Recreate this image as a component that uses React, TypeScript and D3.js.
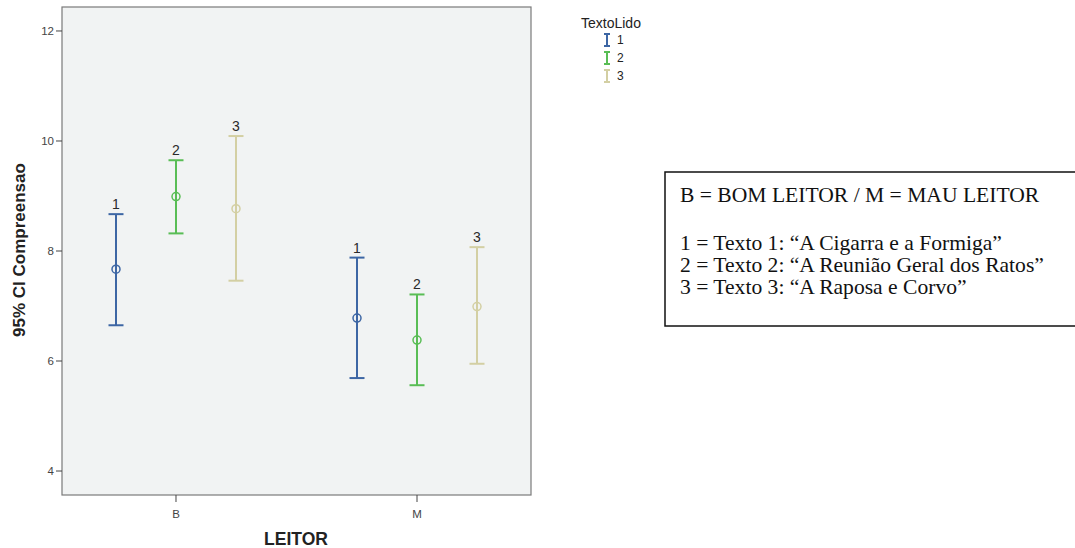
import * as d3 from 'd3'

const GROUPS = ['B', 'M']
const SERIES = ['1', '2', '3']
const COLORS = ['#3d66a4', '#59bd55', '#d3cfa3']

// mean, lower and upper 95% CI per series, indexed by group
const MEANS = [
  [7.67, 6.78],
  [8.99, 6.38],
  [8.77, 6.99],
]
const LOWER = [
  [6.65, 5.69],
  [8.32, 5.56],
  [7.46, 5.95],
]
const UPPER = [
  [8.67, 7.88],
  [9.65, 7.21],
  [10.09, 8.07],
]
const Y_TICKS = [4, 6, 8, 10, 12]

const NOTE_LINES = [
  'B = BOM LEITOR / M = MAU LEITOR',
  '',
  '1 = Texto 1: \u201cA Cigarra e a Formiga\u201d',
  '2 = Texto 2: \u201cA Reuni\u00e3o Geral dos Ratos\u201d',
  '3 = Texto 3: \u201cA Raposa e Corvo\u201d',
]

const W = 1075
const H = 548
const PLOT = { left: 62, top: 7, right: 531, bottom: 495 }

export default function App() {
  const x = d3.scalePoint<string>().domain(GROUPS).range([PLOT.left, PLOT.right]).padding(0.473)
  const off = d3.scalePoint<string>().domain(SERIES).range([-60, 60])
  const y = d3.scaleLinear().domain([3.564, 12.436]).range([PLOT.bottom, PLOT.top])

  const font = 'Arial, "Liberation Sans", sans-serif'
  const cap = 7.5

  return (
    <svg width={W} height={H} style={{ position: 'absolute', left: 0, top: 0, background: '#fff' }}>
      <rect x={PLOT.left} y={PLOT.top} width={PLOT.right - PLOT.left} height={PLOT.bottom - PLOT.top}
        fill="#f1f3f3" stroke="#7a7a7a" strokeWidth={1.2} />

      {/* y axis */}
      {Y_TICKS.map(t => (
        <g key={t}>
          <line x1={PLOT.left - 6} x2={PLOT.left} y1={y(t)} y2={y(t)} stroke="#444" strokeWidth={1} />
          <text x={PLOT.left - 8} y={y(t)} dy="0.35em" textAnchor="end" fontSize={11.5} fill="#444" fontFamily={font}>{t}</text>
        </g>
      ))}
      <text transform={`translate(25,250) rotate(-90)`} textAnchor="middle"
        fontSize={17} fontWeight="bold" fill="#222" fontFamily={font}>95% CI Compreensao</text>

      {/* x axis */}
      {GROUPS.map(g => (
        <g key={g}>
          <line x1={x(g)} x2={x(g)} y1={PLOT.bottom} y2={PLOT.bottom + 7} stroke="#444" strokeWidth={1} />
          <text x={x(g)} y={PLOT.bottom + 23} textAnchor="middle" fontSize={11.5} fill="#444" fontFamily={font}>{g}</text>
        </g>
      ))}
      <text x={296} y={545} textAnchor="middle" fontSize={17.5} fontWeight="bold"
        fill="#222" fontFamily={font}>LEITOR</text>

      {/* error bars */}
      {SERIES.map((s, si) => GROUPS.map((g, gi) => {
        const cx = (x(g) as number) + (off(s) as number)
        const yTop = y(UPPER[si][gi])
        const yBot = y(LOWER[si][gi])
        return (
          <g key={s + g} stroke={COLORS[si]} strokeWidth={2} fill="none">
            <line x1={cx} x2={cx} y1={yTop} y2={yBot} />
            <line x1={cx - cap} x2={cx + cap} y1={yTop} y2={yTop} />
            <line x1={cx - cap} x2={cx + cap} y1={yBot} y2={yBot} />
            <circle cx={cx} cy={y(MEANS[si][gi])} r={4} strokeWidth={1.5} />
            <text x={cx} y={yTop - 5} textAnchor="middle" fontSize={14} fill="#2a2a2a" stroke="none"
              fontFamily={font}>{s}</text>
          </g>
        )
      }))}

      {/* legend */}
      <text x={581} y={28} fontSize={14} fill="#222" fontFamily={font}>TextoLido</text>
      {SERIES.map((s, si) => {
        const ly = 40 + si * 18
        return (
          <g key={s}>
            <g stroke={COLORS[si]} strokeWidth={2}>
              <line x1={607} x2={607} y1={ly - 6} y2={ly + 6} />
              <line x1={604} x2={610} y1={ly - 6} y2={ly - 6} />
              <line x1={604} x2={610} y1={ly + 6} y2={ly + 6} />
            </g>
            <text x={617} y={ly} dy="0.35em" fontSize={12} fill="#222" fontFamily={font}>{s}</text>
          </g>
        )
      })}

      {/* note box */}
      <rect x={665} y={172} width={420} height={154} fill="#fff" stroke="#111" strokeWidth={1.5} />
      {NOTE_LINES.map((l, i) => (
        <text key={i} transform={`translate(680,${202 + (i === 0 ? 0 : 4 + i * 22)}) scale(1.08,1)`} fontSize={20} fill="#111"
          fontFamily='"Liberation Serif", "Times New Roman", serif'>{l}</text>
      ))}
    </svg>
  )
}
